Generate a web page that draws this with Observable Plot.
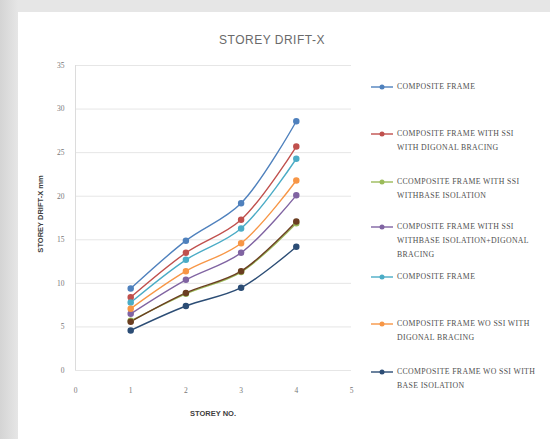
<!DOCTYPE html>
<html>
<head>
<meta charset="utf-8">
<script src="https://cdn.jsdelivr.net/npm/d3@7"></script>
<script src="https://cdn.jsdelivr.net/npm/@observablehq/plot@0.6"></script>
<style>
  html, body { margin: 0; padding: 0; }
  body { width: 550px; height: 439px; overflow: hidden; }
  #frame { position: relative; width: 550px; height: 439px; background: linear-gradient(90deg, #d4d4d4 0px, #e6e6e6 18px); overflow: hidden; font-family: "Liberation Sans", Arial, sans-serif; }
  #panel { position: absolute; left: 18px; top: 12px; right: 0; bottom: 0; background: #fff; }
  #chart { position: absolute; left: 0; top: 0; }
  .lbl { position: absolute; white-space: nowrap; }
  #title { left: 0; width: 544px; top: 33px; text-align: center; font-size: 12px; color: #6a6a6a; font-family: "Liberation Sans Narrow", "Liberation Sans", sans-serif; letter-spacing: 0.5px; }
  #ylab { left: 40px; top: 214px; transform: translate(-50%, -50%) rotate(-90deg); font-size: 7.5px; font-weight: bold; color: #404040; }
  #xlab { left: 213px; top: 413px; transform: translate(-50%, -50%); font-size: 7.5px; font-weight: bold; color: #404040; }
  .leg { position: absolute; left: 369px; }
  .leg svg { position: absolute; left: 0; top: 0; }
  .leg .t { position: absolute; left: 28px; top: 0; font-size: 7.8px; line-height: 14.2px; color: #505050; white-space: pre; font-family: "Liberation Serif", serif; letter-spacing: 0.35px; }
</style>
</head>
<body>
<div id="frame">
  <div id="panel"></div>
  <div id="chart"></div>
  <div class="lbl" id="title">STOREY DRIFT-X</div>
  <div class="lbl" id="ylab">STOREY DRIFT-X mm</div>
  <div class="lbl" id="xlab">STOREY NO.</div>
  <div id="legend"></div>
</div>
<script>
// Storey numbers on the x axis
const storeys = [1, 2, 3, 4];
const xTicks = [0, 1, 2, 3, 4, 5];
const yTicks = [0, 5, 10, 15, 20, 25, 30, 35];

// Legend labels (line breaks as laid out in the legend)
const seriesNames = [
  "COMPOSITE FRAME",
  "COMPOSITE FRAME WITH SSI\nWITH DIGONAL BRACING",
  "CCOMPOSITE FRAME WITH SSI\nWITHBASE ISOLATION",
  "COMPOSITE FRAME WITH SSI\nWITHBASE ISOLATION+DIGONAL\nBRACING",
  "COMPOSITE FRAME ",
  "COMPOSITE FRAME WO SSI WITH\nDIGONAL BRACING",
  "CCOMPOSITE FRAME WO SSI WITH\nBASE ISOLATION",
  "SERIES 8"
];
const seriesColors = ["#4f81bd", "#c0504d", "#9bbb59", "#8064a2", "#4bacc6", "#f79646", "#2c4d75", "#6b3e22"];
const inLegend = [true, true, true, true, true, true, true, false];

// Storey drift (mm) per series, storeys 1..4
const driftFrame        = [9.4, 14.9, 19.2, 28.6];
const driftSsiBracing   = [8.4, 13.5, 17.3, 25.7];
const driftSsiIsolation = [5.7, 8.8, 11.3, 16.9];
const driftSsiIsoBrace  = [6.5, 10.4, 13.5, 20.1];
const driftFrame2       = [7.8, 12.7, 16.3, 24.3];
const driftWoSsiBracing = [7.1, 11.4, 14.6, 21.8];
const driftWoSsiIso     = [4.6, 7.4, 9.5, 14.2];
const driftSeries8      = [5.6, 8.9, 11.4, 17.1];

const seriesValues = [driftFrame, driftSsiBracing, driftSsiIsolation, driftSsiIsoBrace,
                      driftFrame2, driftWoSsiBracing, driftWoSsiIso, driftSeries8];

const rows = seriesValues.flatMap((vals, i) =>
  vals.map((v, j) => ({series: seriesNames[i], storey: storeys[j], drift: v})));

const chart = Plot.plot({
  width: 550,
  height: 439,
  marginLeft: 75,
  marginRight: 199,
  marginTop: 65,
  marginBottom: 69,
  style: {background: "transparent", fontFamily: "Liberation Serif, serif"},
  x: {domain: [0, 5], label: null},
  y: {domain: [0, 35], label: null},
  color: {domain: seriesNames, range: seriesColors},
  marks: [
    Plot.ruleY(yTicks, {y: d => d, stroke: "#e6e6e6", strokeWidth: 1}),
    Plot.ruleX([0], {stroke: "#dcdcdc"}),
    Plot.axisX({ticks: xTicks, tickFormat: d3.format("d"), tickSize: 0, tickPadding: 17, fontSize: 7.5, color: "#777", label: null}),
    Plot.axisY({ticks: yTicks, tickFormat: d3.format("d"), tickSize: 0, tickPadding: 11, fontSize: 7.5, color: "#777", label: null}),
    Plot.line(rows, {x: "storey", y: "drift", z: "series", stroke: "series", strokeWidth: 1.4, curve: "catmull-rom"}),
    Plot.dot(rows, {x: "storey", y: "drift", fill: "series", stroke: "series", r: 2.5})
  ]
});
document.getElementById("chart").appendChild(chart);

// Legend entries
const legendTops = [80, 127, 175, 220, 270, 317, 365];
const legend = d3.select("#legend");
seriesNames.forEach((name, i) => {
  if (!inLegend[i]) return;
  const g = legend.append("div").attr("class", "leg").style("top", legendTops[i] + "px");
  const s = g.append("svg").attr("width", 28).attr("height", 14);
  s.append("line").attr("x1", 2).attr("x2", 24).attr("y1", 7).attr("y2", 7)
    .attr("stroke", seriesColors[i]).attr("stroke-width", 1.4);
  s.append("circle").attr("cx", 13).attr("cy", 7).attr("r", 2.5).attr("fill", seriesColors[i]);
  g.append("div").attr("class", "t").text(name);
});
</script>
</body>
</html>
